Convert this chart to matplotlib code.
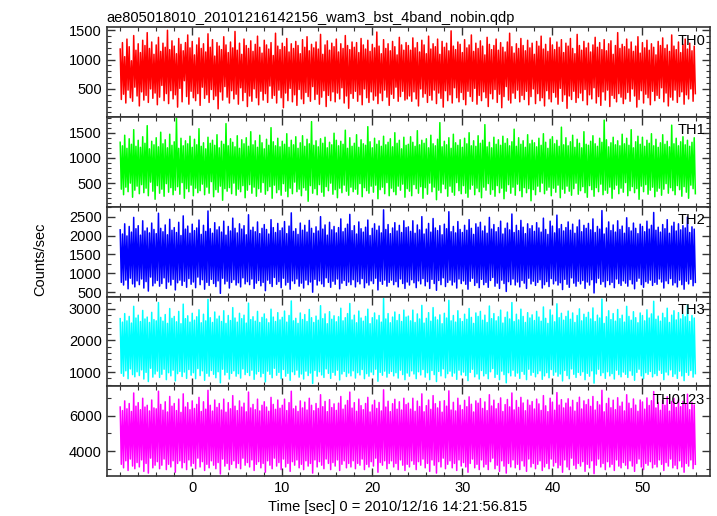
import numpy as np
import matplotlib
matplotlib.use("Agg")
import matplotlib.pyplot as plt
from matplotlib.ticker import MultipleLocator

plt.rcParams["font.family"] = ["Liberation Sans", "DejaVu Sans"]
plt.rcParams["font.size"] = 10.5

# === Light curve values (counts/sec), 0.125 s bins starting at -8 s ===
TITLE = "ae805018010_20101216142156_wam3_bst_4band_nobin.qdp"
XLABEL = "Time [sec] 0 = 2010/12/16 14:21:56.815"
YLABEL = "Counts/sec"
T_START = -8.0
T_BIN = 0.125

# first half (-8 .. 24 s)
th0_a = [
    1180, 320, 1290, 410, 1050, 260, 1350, 480, 1220, 350, 980, 290, 1410, 530, 1160, 380,
    1270, 210, 1120, 450, 1330, 310, 1240, 390, 1460, 270, 1190, 500, 1300, 340, 1090,
    430, 1250, 230, 1380, 360, 1140, 560, 1280, 300, 1210, 420, 1500, 250, 1170, 470, 1320,
    330, 1230, 400, 1100, 190, 1360, 510, 1260, 280, 1150, 640, 1290, 370, 1420, 240, 1200,
    460, 1310, 350, 1080, 300, 1250, 420, 1370, 220, 1190, 530, 1270, 340, 1130, 400, 1440,
    270, 1210, 490, 1340, 320, 1060, 380, 1290, 160, 1230, 450, 1170, 310, 1390, 540, 1250,
    360, 1120, 260, 1300, 470, 1200, 330, 1480, 410, 1160, 240, 1280, 520, 1090, 300, 1350,
    440, 1240, 200, 1190, 380, 1320, 290, 1140, 500, 1260, 350, 1400, 230, 1210, 460, 1110,
    310, 1330, 420, 1250, 270, 1180, 550, 1290, 340, 1070, 390, 1450, 260, 1230, 480, 1170,
    350, 1280, 180, 1220, 430, 1360, 300, 1130, 510, 1270, 280, 1190, 400, 1310, 220, 1240,
    490, 1100, 330, 1340, 250, 1210, 440, 1390, 370, 1150, 290, 1260, 540, 1200, 320, 1300,
    410, 1180, 240, 1430, 360, 1090, 470, 1250, 200, 1320, 390, 1160, 300, 1280, 450, 1220,
    280, 1350, 430, 1130, 330, 1270, 520, 1190, 260, 1410, 380, 1240, 170, 1170, 420, 1300,
    340, 1210, 460, 1290, 290, 1120, 400, 1360, 230, 1250, 500, 1180, 350, 1330, 270, 1140,
    450, 1260, 310, 1200, 380, 1470, 250, 1230, 430, 1100, 300, 1340, 480, 1190, 360, 1270,
    220, 1150, 410, 1310, 340, 1220, 530, 1080, 290, 1380, 370, 1250, 460, 1160, 310, 1290,
]
# second half (24 .. 56 s)
th0_b = [
    330,
    1240, 380, 1160, 290, 1370, 450, 1200, 330, 1290, 210, 1130, 500, 1330, 360, 1250, 420,
    1100, 270, 1400, 390, 1180, 310, 1270, 480, 1220, 250, 1350, 430, 1090, 340, 1310, 190,
    1210, 470, 1280, 300, 1150, 400, 1490, 260, 1230, 520, 1170, 350, 1300, 280, 1260, 440,
    1120, 320, 1340, 230, 1200, 460, 1250, 370, 1420, 290, 1140, 510, 1280, 240, 1190, 390,
    1320, 300, 1230, 450, 1080, 350, 1380, 200, 1260, 420, 1170, 330, 1240, 490, 1350, 270,
    1160, 410, 1290, 180, 1210, 370, 1130, 540, 1300, 310, 1450, 260, 1220, 430, 1110, 340,
    1270, 480, 1190, 280, 1360, 390, 1240, 320, 1150, 460, 1330, 230, 1200, 370, 1280, 500,
    1090, 250, 1310, 420, 1230, 300, 1400, 350, 1180, 210, 1260, 470, 1140, 330, 1370, 280,
    1250, 440, 1170, 360, 1300, 240, 1210, 510, 1340, 290, 1120, 400, 1280, 170, 1230, 380,
    1360, 320, 1190, 460, 1100, 270, 1430, 350, 1240, 430, 1160, 300, 1310, 490, 1200, 230,
    1280, 400, 1130, 330, 1250, 520, 1380, 260, 1210, 370, 1290, 220, 1170, 450, 1340, 310,
    1150, 480, 1270, 200, 1320, 390, 1090, 340, 1240, 280, 1460, 420, 1190, 360, 1260, 250,
    1220, 330, 1350, 440, 1180, 290, 1300, 500, 1140, 380, 1230, 190, 1390, 320, 1110, 470,
    1290, 260, 1200, 410, 1330, 350, 1160, 230, 1270, 460, 1210, 300, 1080, 390, 1310, 340,
    1240, 520, 1370, 280, 1190, 430, 1250, 210, 1140, 360, 1420, 310, 1230, 480, 1170, 270,
    1300, 370, 1120, 450, 1260, 240, 1350, 400, 1180, 330, 1280, 500, 1150, 290, 1230, 420,
]

th1_a = [
    1310, 380, 1240, 270, 1450, 420, 1190, 330, 1380, 500, 1270, 220, 1560, 360, 1230, 440,
    1350, 290, 1210, 470, 1420, 310, 1290, 400, 1640, 250, 1180, 520, 1330, 340, 1260, 180,
    1400, 450, 1220, 300, 1510, 380, 1280, 240, 1360, 490, 1200, 320, 1470, 410, 1250, 270,
    1320, 360, 1790, 430, 1190, 280, 1390, 510, 1240, 200, 1340, 390, 1280, 330, 1430, 460,
    1210, 250, 1370, 400, 1260, 310, 1580, 350, 1230, 480, 1300, 270, 1180, 420, 1410, 300,
    1290, 530, 1350, 230, 1250, 370, 1460, 320, 1200, 440, 1330, 160, 1270, 390, 1680, 340,
    1240, 410, 1380, 290, 1310, 500, 1220, 260, 1440, 380, 1190, 330, 1360, 450, 1280, 210,
    1400, 360, 1230, 470, 1520, 300, 1260, 420, 1340, 240, 1210, 390, 1450, 320, 1300, 510,
    1180, 280, 1370, 350, 1250, 430, 1600, 200, 1320, 460, 1240, 310, 1390, 370, 1220, 260,
    1330, 490, 1270, 340, 1480, 230, 1210, 400, 1350, 290, 1260, 520, 1420, 330, 1190, 380,
    1300, 250, 1440, 410, 1230, 360, 1370, 140, 1280, 450, 1720, 300, 1250, 390, 1340, 270,
    1220, 470, 1380, 320, 1290, 240, 1410, 430, 1200, 350, 1310, 500, 1260, 280, 1490, 370,
    1350, 210, 1240, 400, 1330, 310, 1270, 460, 1550, 340, 1190, 260, 1400, 420, 1230, 330,
    1290, 380, 1460, 280, 1210, 490, 1360, 230, 1280, 410, 1250, 350, 1620, 300, 1320, 440,
    1200, 320, 1390, 460, 1270, 190, 1340, 370, 1230, 420, 1430, 290, 1260, 510, 1310, 250,
    1380, 400, 1220, 330, 1500, 270, 1290, 440, 1350, 360, 1180, 480, 1410, 220, 1250, 390,
]
th1_b = [
    1270, 340, 1420, 250, 1310, 470, 1230, 390, 1540, 300, 1260, 430, 1350, 200, 1290, 410,
    1380, 280, 1200, 500, 1450, 330, 1280, 420, 1240, 170, 1370, 360, 1700, 310, 1220, 480,
    1330, 390, 1260, 240, 1400, 440, 1190, 320, 1470, 260, 1300, 510, 1250, 350, 1360, 290,
    1210, 450, 1390, 300, 1280, 220, 1500, 380, 1240, 460, 1340, 270, 1230, 400, 1440, 330,
    1290, 210, 1350, 420, 1660, 360, 1220, 490, 1310, 280, 1200, 370, 1410, 240, 1270, 450,
    1360, 310, 1250, 400, 1430, 190, 1290, 340, 1380, 470, 1240, 300, 1320, 420, 1570, 260,
    1230, 480, 1400, 350, 1270, 230, 1340, 410, 1210, 310, 1460, 390, 1280, 150, 1350, 370,
    1300, 270, 1220, 440, 1390, 330, 1250, 500, 1480, 290, 1310, 360, 1190, 420, 1370, 250,
    1420, 400, 1280, 320, 1350, 460, 1230, 210, 1610, 380, 1260, 300, 1400, 440, 1240, 340,
    1320, 260, 1450, 390, 1210, 500, 1370, 280, 1290, 350, 1200, 430, 1520, 310, 1270, 220,
    1250, 450, 1330, 370, 1440, 240, 1280, 410, 1230, 330, 1390, 480, 1310, 270, 1750, 360,
    1360, 300, 1220, 420, 1300, 200, 1410, 380, 1260, 460, 1340, 290, 1240, 400, 1470, 320,
    1280, 510, 1390, 250, 1250, 350, 1560, 430, 1200, 310, 1320, 390, 1430, 180, 1270, 440,
    1410, 330, 1230, 470, 1350, 280, 1290, 360, 1480, 420, 1240, 230, 1370, 340, 1210, 400,
    1300, 260, 1460, 380, 1270, 490, 1330, 300, 1220, 410, 1650, 350, 1280, 270, 1390, 450,
    1240, 370, 1320, 240, 1420, 430, 1260, 320, 1350, 200, 1230, 460, 1310, 390, 1400, 290,
]

th2_a = [
    2150, 760, 2040, 690, 2310, 820, 1990, 590, 2240, 870, 2090, 720, 2480, 640, 2180, 800,
    2260, 700, 2010, 850, 2390, 610, 2120, 780, 2200, 530, 2070, 900, 2330, 670, 2160, 740,
    2050, 810, 2590, 660, 2190, 730, 2100, 880, 2280, 600, 2020, 770, 2430, 690, 2140, 840,
    2210, 560, 2080, 750, 2350, 820, 2000, 680, 2520, 790, 2170, 630, 2250, 860, 2060, 710,
    2300, 770, 2130, 620, 2200, 900, 2410, 700, 2030, 830, 2270, 580, 2110, 760, 2650, 680,
    2180, 840, 2060, 730, 2340, 650, 2150, 800, 2230, 470, 2090, 870, 2380, 720, 2010, 790,
    2240, 610, 2120, 760, 2460, 830, 2190, 690, 2070, 750, 2310, 640, 2170, 880, 2260, 720,
    2020, 780, 2550, 700, 2140, 850, 2220, 600, 2100, 740, 2360, 810, 2050, 670, 2190, 760,
    2290, 540, 2160, 820, 2040, 730, 2420, 650, 2210, 890, 2080, 710, 2320, 780, 2130, 620,
    2200, 870, 2370, 690, 2050, 760, 2250, 580, 2600, 800, 2110, 730, 2180, 850, 2030, 660,
    2330, 740, 2140, 610, 2270, 820, 2090, 700, 2400, 770, 2190, 500, 2060, 840, 2230, 690,
    2120, 800, 2500, 720, 2170, 650, 2280, 880, 2010, 760, 2350, 630, 2150, 790, 2240, 710,
    2070, 850, 2210, 590, 2440, 740, 2100, 810, 2190, 680, 2300, 770, 2560, 700, 2130, 830,
    2260, 640, 2040, 780, 2360, 720, 2180, 860, 2090, 620, 2220, 750, 2410, 690, 2000, 800,
    2190, 730, 2310, 870, 2140, 560, 2250, 790, 2070, 710, 2680, 820, 2160, 660, 2290, 760,
    2050, 820, 2200, 700, 2340, 780, 2120, 640, 2270, 850, 2080, 730, 2390, 600, 2210, 770,
]
th2_b = [
    2230, 690, 2110, 830, 2390, 750, 2060, 620, 2280, 800, 2150, 720, 2500, 860, 2040, 670,
    2170, 780, 2320, 600, 2090, 840, 2450, 730, 2200, 550, 2130, 810, 2260, 700, 2020, 880,
    2300, 650, 2180, 760, 2630, 820, 2100, 690, 2240, 770, 2070, 610, 2370, 850, 2160, 730,
    2080, 800, 2270, 710, 2140, 580, 2420, 790, 2190, 870, 2030, 680, 2310, 750, 2220, 620,
    2350, 840, 2120, 700, 2250, 760, 2060, 630, 2480, 810, 2170, 890, 2290, 660, 2100, 740,
    2210, 600, 2380, 820, 2040, 730, 2190, 520, 2330, 780, 2150, 700, 2570, 850, 2080, 690,
    2270, 770, 2130, 640, 2400, 810, 2220, 740, 2050, 600, 2310, 870, 2180, 720, 2260, 790,
    2110, 680, 2340, 760, 2200, 830, 2090, 610, 2460, 700, 2160, 780, 2030, 650, 2380, 860,
    2250, 720, 2070, 800, 2540, 690, 2180, 750, 2290, 570, 2120, 840, 2210, 710, 2360, 630,
    2140, 880, 2300, 740, 2060, 660, 2230, 790, 2410, 720, 2100, 810, 2270, 600, 2190, 770,
    2320, 690, 2150, 830, 2440, 480, 2080, 750, 2240, 870, 2170, 710, 2660, 780, 2040, 640,
    2200, 810, 2360, 700, 2130, 760, 2280, 620, 2090, 850, 2390, 730, 2160, 680, 2250, 800,
    2060, 740, 2470, 660, 2210, 830, 2120, 720, 2330, 590, 2190, 790, 2050, 870, 2300, 700,
    2240, 630, 2100, 780, 2380, 740, 2170, 820, 2270, 680, 2610, 760, 2140, 710, 2220, 850,
    2090, 770, 2290, 610, 2180, 800, 2420, 730, 2060, 860, 2250, 690, 2350, 750, 2120, 640,
    2310, 820, 2150, 700, 2260, 580, 2200, 790, 2490, 720, 2080, 840, 2230, 670, 2170, 760,
]

th3_a = [
    2690, 960, 2580, 870, 2850, 1040, 2620, 790, 2760, 1100, 2550, 920, 3080, 850, 2710, 1010,
    2800, 890, 2600, 1070, 2950, 780, 2680, 990, 2740, 700, 2570, 1120, 2890, 840, 2660, 940,
    2620, 1030, 3200, 830, 2730, 930, 2610, 1090, 2820, 760, 2540, 980, 3010, 880, 2700, 1060,
    2760, 720, 2590, 950, 2920, 1020, 2530, 860, 3150, 1000, 2690, 800, 2780, 1080, 2580, 900,
    2860, 980, 2640, 790, 2750, 1110, 2970, 890, 2560, 1040, 2830, 740, 2620, 960, 3300, 870,
    2720, 1050, 2570, 930, 2900, 820, 2680, 1010, 2770, 660, 2600, 1090, 2940, 910, 2540, 990,
    2790, 780, 2630, 960, 3040, 1040, 2710, 870, 2580, 950, 2860, 810, 2690, 1100, 2800, 920,
    2550, 990, 3180, 890, 2660, 1060, 2750, 770, 2610, 940, 2920, 1020, 2570, 850, 2730, 960,
    2840, 690, 2680, 1030, 2560, 930, 2990, 820, 2740, 1120, 2600, 900, 2880, 990, 2650, 790,
    2730, 1080, 2930, 870, 2580, 960, 2790, 740, 3250, 1010, 2620, 920, 2700, 1060, 2540, 840,
    2870, 940, 2660, 780, 2820, 1030, 2600, 890, 2980, 970, 2720, 640, 2570, 1050, 2770, 870,
    2640, 1010, 3100, 910, 2690, 830, 2840, 1100, 2530, 960, 2910, 800, 2670, 990, 2780, 900,
    2590, 1060, 2750, 750, 3020, 940, 2620, 1020, 2720, 860, 2850, 970, 3170, 880, 2650, 1040,
    2800, 810, 2560, 980, 2930, 910, 2710, 1080, 2610, 790, 2760, 950, 2990, 870, 2530, 1000,
    2720, 920, 2870, 1090, 2650, 710, 2790, 990, 2580, 900, 3330, 1030, 2680, 840, 2850, 960,
    2560, 1020, 2740, 880, 2900, 980, 2630, 810, 2820, 1060, 2600, 920, 2960, 760, 2740, 970,
]
th3_b = [
    2770, 870, 2620, 1040, 2960, 940, 2570, 790, 2840, 1010, 2680, 910, 3110, 1080, 2550, 840,
    2700, 980, 2880, 760, 2610, 1050, 3040, 920, 2740, 700, 2650, 1020, 2810, 880, 2530, 1100,
    2860, 820, 2710, 950, 3270, 1030, 2620, 870, 2790, 970, 2580, 770, 2940, 1060, 2690, 910,
    2600, 1000, 2830, 890, 2670, 730, 3010, 990, 2730, 1090, 2540, 850, 2870, 940, 2760, 780,
    2920, 1050, 2640, 880, 2800, 950, 2570, 790, 3090, 1010, 2690, 1110, 2850, 830, 2620, 930,
    2750, 760, 2960, 1030, 2550, 920, 2730, 660, 2900, 980, 2680, 880, 3200, 1060, 2600, 870,
    2830, 970, 2650, 800, 2990, 1020, 2760, 930, 2570, 760, 2880, 1090, 2710, 900, 2810, 990,
    2630, 850, 2920, 950, 2740, 1040, 2610, 770, 3060, 880, 2700, 980, 2540, 820, 2970, 1080,
    2800, 900, 2590, 1000, 3160, 870, 2720, 940, 2860, 720, 2640, 1050, 2760, 890, 2930, 790,
    2670, 1100, 2870, 930, 2570, 830, 2790, 990, 3000, 900, 2620, 1010, 2830, 760, 2730, 960,
    2890, 870, 2680, 1040, 3030, 650, 2600, 940, 2800, 1090, 2710, 890, 3310, 980, 2540, 800,
    2750, 1010, 2940, 880, 2660, 950, 2850, 780, 2610, 1060, 2980, 920, 2690, 850, 2800, 1000,
    2580, 930, 3080, 830, 2760, 1040, 2640, 900, 2910, 740, 2720, 990, 2560, 1090, 2870, 880,
    2790, 790, 2620, 980, 2970, 930, 2710, 1020, 2840, 850, 3240, 950, 2670, 890, 2770, 1060,
    2610, 960, 2860, 760, 2720, 1000, 3020, 910, 2570, 1070, 2800, 860, 2940, 940, 2650, 800,
    2880, 1030, 2680, 880, 2820, 730, 2750, 990, 3110, 900, 2600, 1050, 2790, 840, 2710, 950,
]

th0123_a = [
    6500, 3250, 6300, 3050, 6850, 3450, 6400, 2900, 6700, 3550, 6250, 3150, 7300, 3000, 6550, 3350,
    6750, 3100, 6350, 3500, 7000, 2850, 6500, 3300, 6600, 2750, 6280, 3600, 6900, 3050, 6450, 3200,
    6400, 3400, 7400, 3000, 6650, 3200, 6320, 3550, 6800, 2950, 6220, 3250, 7100, 3100, 6550, 3450,
    6700, 2800, 6300, 3300, 6950, 3450, 6200, 3050, 7250, 3350, 6500, 2950, 6750, 3500, 6350, 3150,
    6850, 3300, 6420, 3000, 6650, 3600, 7050, 3100, 6250, 3400, 6800, 2900, 6380, 3250, 7450, 3050,
    6600, 3450, 6270, 3200, 6900, 3000, 6480, 3350, 6700, 2700, 6330, 3550, 6950, 3150, 6210, 3300,
    6750, 2950, 6400, 3250, 7150, 3450, 6550, 3050, 6300, 3300, 6850, 3000, 6500, 3600, 6720, 3200,
    6230, 3350, 7350, 3100, 6450, 3500, 6650, 2900, 6350, 3250, 6950, 3400, 6280, 3050, 6600, 3300,
    6800, 2800, 6500, 3450, 6260, 3200, 7050, 3000, 6650, 3600, 6370, 3150, 6900, 3350, 6430, 2950,
    6600, 3550, 6950, 3100, 6300, 3300, 6750, 2850, 7400, 3400, 6400, 3200, 6550, 3500, 6250, 3050,
    6850, 3250, 6450, 2950, 6780, 3450, 6330, 3150, 7000, 3300, 6600, 2750, 6290, 3500, 6700, 3100,
    6420, 3400, 7200, 3200, 6520, 3000, 6820, 3550, 6240, 3300, 6920, 2950, 6470, 3350, 6680, 3150,
    6310, 3500, 6720, 2900, 7100, 3250, 6380, 3450, 6610, 3050, 6870, 3300, 7350, 3100, 6440, 3450,
    6750, 3000, 6260, 3300, 6950, 3200, 6580, 3550, 6350, 2950, 6700, 3250, 7050, 3100, 6220, 3400,
    6620, 3150, 6880, 3600, 6420, 2800, 6760, 3350, 6280, 3200, 7480, 3450, 6500, 3000, 6830, 3300,
    6240, 3450, 6690, 3100, 6940, 3300, 6380, 2950, 6800, 3500, 6330, 3200, 7000, 2900, 6640, 3250,
]
th0123_b = [
    6720, 3100, 6380, 3450, 7000, 3250, 6260, 2950, 6840, 3400, 6530, 3200, 7250, 3550, 6230, 3050,
    6580, 3300, 6900, 2850, 6370, 3500, 7150, 3200, 6690, 2750, 6450, 3400, 6820, 3100, 6210, 3600,
    6860, 3000, 6550, 3250, 7420, 3450, 6330, 3050, 6770, 3300, 6280, 2900, 7000, 3500, 6600, 3150,
    6350, 3350, 6880, 3100, 6520, 2800, 7080, 3300, 6660, 3550, 6220, 3050, 6850, 3250, 6720, 2950,
    6980, 3500, 6420, 3100, 6790, 3250, 6300, 2950, 7200, 3400, 6560, 3600, 6890, 3000, 6400, 3200,
    6700, 2850, 7020, 3450, 6250, 3150, 6640, 2750, 6930, 3300, 6510, 3100, 7300, 3500, 6340, 3050,
    6870, 3250, 6480, 2950, 7050, 3450, 6730, 3150, 6290, 2850, 6900, 3550, 6600, 3100, 6810, 3300,
    6390, 3000, 6950, 3250, 6680, 3450, 6310, 2900, 7150, 3100, 6570, 3300, 6240, 3000, 7000, 3550,
    6780, 3150, 6320, 3350, 7320, 3050, 6610, 3200, 6920, 2800, 6450, 3500, 6720, 3100, 6970, 2950,
    6500, 3600, 6880, 3200, 6270, 3000, 6760, 3300, 7060, 3150, 6390, 3400, 6850, 2850, 6640, 3250,
    6930, 3050, 6540, 3450, 7100, 2720, 6330, 3200, 6810, 3550, 6620, 3100, 7450, 3300, 6230, 2950,
    6700, 3400, 7000, 3100, 6460, 3250, 6890, 2900, 6350, 3500, 7030, 3150, 6550, 3050, 6780, 3350,
    6280, 3200, 7200, 3000, 6720, 3450, 6420, 3150, 6960, 2850, 6610, 3300, 6260, 3550, 6900, 3100,
    6790, 2950, 6380, 3300, 7020, 3200, 6590, 3400, 6860, 3050, 7380, 3250, 6450, 3100, 6740, 3500,
    6320, 3250, 6880, 2900, 6600, 3350, 7080, 3150, 6270, 3550, 6820, 3050, 6990, 3200, 6480, 3000,
    6910, 3450, 6520, 3100, 6830, 2800, 6700, 3300, 7230, 3150, 6350, 3500, 6760, 3000, 6620, 3250,
]

bands = ["TH0", "TH1", "TH2", "TH3", "TH0123"]
series = [th0_a + th0_b, th1_a + th1_b, th2_a + th2_b, th3_a + th3_b, th0123_a + th0123_b]
colors = ["#ff0000", "#00ff00", "#0000ff", "#00ffff", "#ff00ff"]
ylims = [(20, 1550), (30, 1810), (385, 2760), (550, 3390), (2585, 7680)]
major = [500, 500, 500, 1000, 2000]
minor = [100, 100, 250, 200, 1000]

# === Figure ===
fig, axes = plt.subplots(5, 1, sharex=True, figsize=(7.17, 5.16), dpi=100)
fig.subplots_adjust(left=0.1488, right=0.9902, top=0.947, bottom=0.0775, hspace=0)

for ax, name, vals, c, yl, mj, mn in zip(axes, bands, series, colors, ylims, major, minor):
    t = T_START + T_BIN * np.arange(len(vals))
    ax.plot(t, vals, color=c, lw=1.1)
    ax.set_ylim(*yl)
    ax.set_xlim(-9.5, 57.5)
    ax.yaxis.set_major_locator(MultipleLocator(mj))
    ax.yaxis.set_minor_locator(MultipleLocator(mn))
    ax.xaxis.set_major_locator(MultipleLocator(10))
    ax.xaxis.set_minor_locator(MultipleLocator(2))
    ax.tick_params(which="both", direction="in", top=True, right=True, colors="#333333",
                   labelcolor="black", labelsize=10.5)
    ax.tick_params(which="major", length=6, width=1)
    ax.tick_params(which="minor", length=3, width=0.8)
    for s in ax.spines.values():
        s.set_color("#333333")
        s.set_linewidth(1.2)
        s.set_zorder(3)
    ax.text(0.992, 0.93, name, transform=ax.transAxes, ha="right", va="top", fontsize=10.5,
            zorder=4)

axes[0].set_title(TITLE, loc="left", fontsize=10.5, pad=4)
fig.text(0.056, 0.498, YLABEL, rotation=90, ha="center", va="center", fontsize=10.5)
fig.text(397.5 / 717, 0.018, XLABEL, ha="center", va="center", fontsize=10.5)

fig.savefig("out.png", dpi=100)
